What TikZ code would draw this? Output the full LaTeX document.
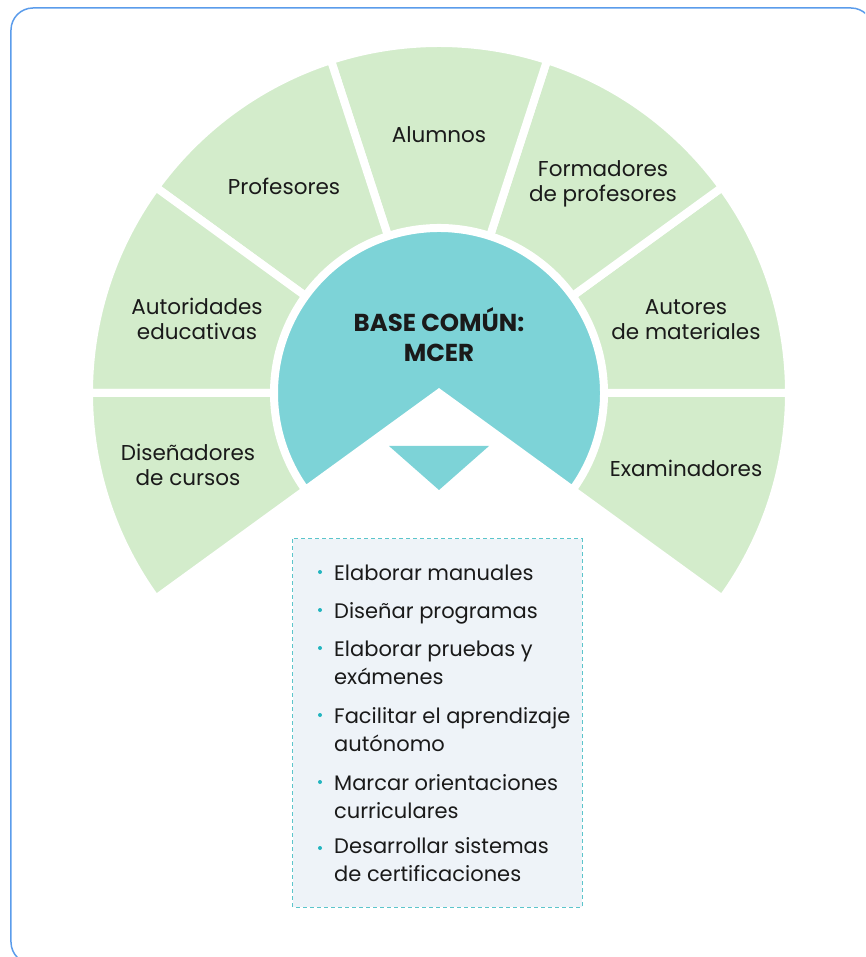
\documentclass[tikz,border=0pt]{standalone}
\usepackage{fontspec}
\setmainfont{Poppins}
\usetikzlibrary{positioning}
\definecolor{fangreen}{HTML}{D3ECCB}
\definecolor{baseteal}{HTML}{7DD3D7}
\definecolor{boxfill}{HTML}{EEF3F8}
\definecolor{boxline}{HTML}{5CC5CB}
\definecolor{dotteal}{HTML}{22B5BF}
\definecolor{frameblue}{HTML}{5B9CEB}
\definecolor{ink}{HTML}{1A1A1A}
\tikzset{
  segment/.style={fill=fangreen, draw=white, line width=8pt},
  fanlabel/.style={align=center, font=\fontsize{21.5}{25}\selectfont, text=ink},
  itemtext/.style={align=left, anchor=base west, inner sep=0pt, font=\fontsize{21}{28}\selectfont, text=ink},
  dot/.style={circle, fill=dotteal, inner sep=0pt, minimum size=4pt}
}
\begin{document}
\begin{tikzpicture}[x=1pt, y=1pt]
\useasboundingbox (-439,-564) rectangle (426,393);
\clip (-439,-564) rectangle (426,393);
% Rahmen
\draw [frameblue, line width=1.5pt, rounded corners=22pt] (-428,385) rectangle (434,-571);
% Segmente
\filldraw [segment] (-36:164) -- (-36:350) arc [start angle=-36, end angle=0, radius=350] -- (0:164) arc [start angle=0, end angle=-36, radius=164] -- cycle;
\filldraw [segment] (0:164) -- (0:350) arc [start angle=0, end angle=36, radius=350] -- (36:164) arc [start angle=36, end angle=0, radius=164] -- cycle;
\filldraw [segment] (36:164) -- (36:350) arc [start angle=36, end angle=72, radius=350] -- (72:164) arc [start angle=72, end angle=36, radius=164] -- cycle;
\filldraw [segment] (72:164) -- (72:350) arc [start angle=72, end angle=108, radius=350] -- (108:164) arc [start angle=108, end angle=72, radius=164] -- cycle;
\filldraw [segment] (108:164) -- (108:350) arc [start angle=108, end angle=144, radius=350] -- (144:164) arc [start angle=144, end angle=108, radius=164] -- cycle;
\filldraw [segment] (144:164) -- (144:350) arc [start angle=144, end angle=180, radius=350] -- (180:164) arc [start angle=180, end angle=144, radius=164] -- cycle;
\filldraw [segment] (180:164) -- (180:350) arc [start angle=180, end angle=216, radius=350] -- (216:164) arc [start angle=216, end angle=180, radius=164] -- cycle;
% Mitte
\filldraw [fill=baseteal, draw=white, line width=8pt] (0,0) -- (-36:165) arc [start angle=-36, end angle=216, radius=165] -- cycle;
\fill [baseteal] (-50,-53) -- (50,-53) -- (0,-97) -- cycle;
\node [align=center, font=\fontsize{24.5}{30}\bfseries, text=ink] (base) at (0,58) {BASE COMÚN:\\MCER};
% Gruppen
\node [fanlabel] (examinadores) at (247,-75) {Examinadores};
\node [fanlabel] (autores) at (247,73) {Autores\\de materiales};
\node [fanlabel] (formadores) at (164,209) {Formadores\\de profesores};
\node [fanlabel] (alumnos) at (0,258) {Alumnos};
\node [fanlabel] (profesores) at (-155,207) {Profesores};
\node [fanlabel] (autoridades) at (-242,74) {Autoridades\\educativas};
\node [fanlabel] (disenadores) at (-251,-72) {Diseñadores\\de cursos};
% Aufgaben
\draw [boxline, fill=boxfill, line width=1pt, dash pattern=on 4pt off 3pt] (-146,-146) rectangle (143,-514);
\node [itemtext] (manuales) at (-105,-187) {Elaborar manuales};
\node [itemtext] (programas) at (-105,-225) {Diseñar programas};
\node [itemtext] (pruebas) at (-105,-291) {Elaborar pruebas y\\exámenes};
\node [itemtext] (autonomo) at (-105,-358) {Facilitar el aprendizaje\\autónomo};
\node [itemtext] (curriculares) at (-105,-425) {Marcar orientaciones\\curriculares};
\node [itemtext] (certificaciones) at (-105,-488) {Desarrollar sistemas\\de certificaciones};
\node [dot] (d1) at (-119,-179) {};
\node [dot] (d2) at (-119,-217) {};
\node [dot] (d3) at (-119,-255) {};
\node [dot] (d4) at (-119,-322) {};
\node [dot] (d5) at (-119,-389) {};
\node [dot] (d6) at (-119,-455) {};
\end{tikzpicture}
\end{document}
